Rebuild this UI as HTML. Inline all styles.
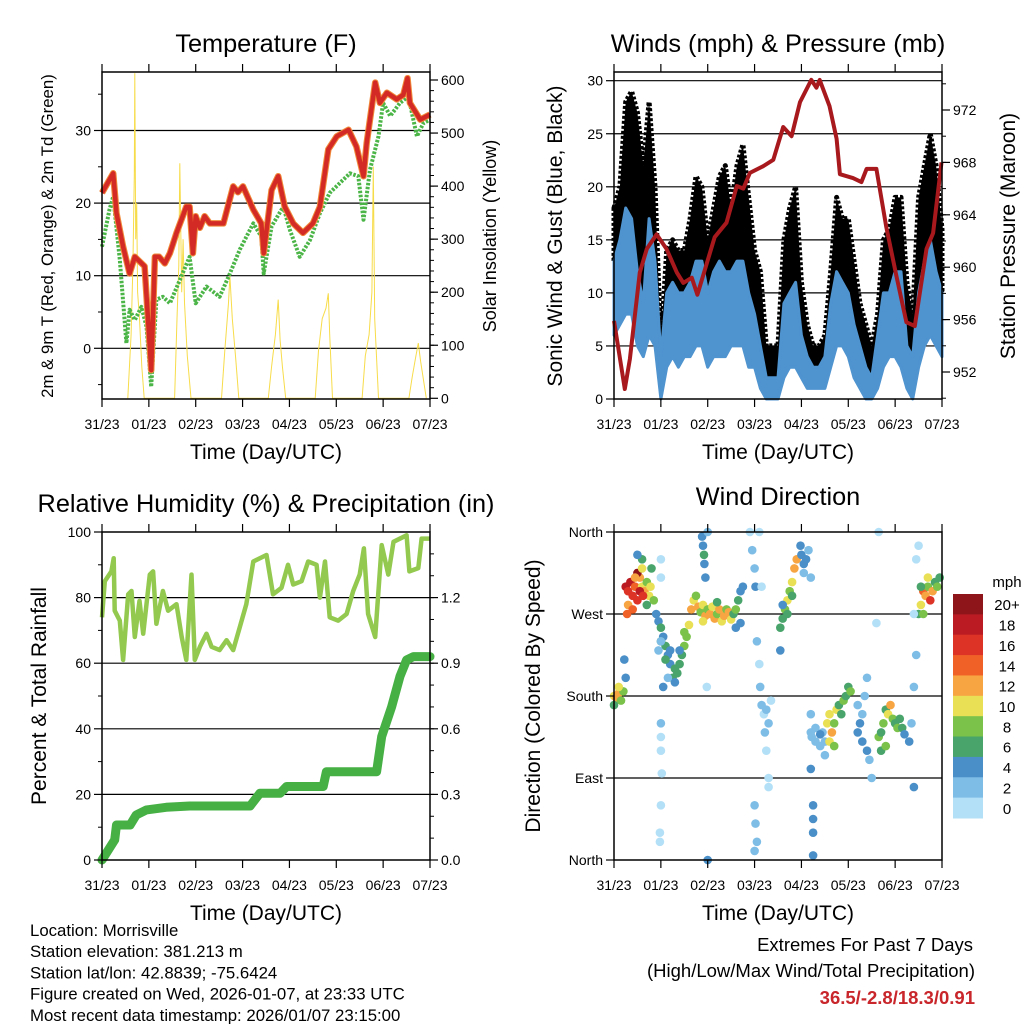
<!DOCTYPE html>
<html><head><meta charset="utf-8"><style>
body{margin:0;background:#fff}
svg{display:block;font-family:"Liberation Sans",sans-serif}
</style></head><body>
<svg id="s" width="1024" height="1024" viewBox="0 0 1024 1024">
<rect width="1024" height="1024" fill="#fff"/>
</svg>
<script>
// ---------- DATA ----------
const dayLabels=["31/23","01/23","02/23","03/23","04/23","05/23","06/23","07/23"];
// Temperature (F)
const tempT=[0,0.24,0.31,0.45,0.59,0.7,0.91,1.02,1.05,1.13,1.22,1.34,1.45,1.59,1.8,1.87,1.94,2.0,2.09,2.19,2.3,2.59,2.8,2.9,3.01,3.23,3.4,3.45,3.62,3.76,3.9,4.08,4.29,4.5,4.65,4.83,5.01,5.26,5.43,5.58,5.65,5.83,5.93,6.08,6.29,6.43,6.52,6.57,6.79,7.0];
const tempV=[21.4,24.1,18.6,14,10.3,12.6,11.3,0.2,-3,12.6,12.6,11.7,13.1,15.9,19.5,19.5,13.1,18.2,16.6,18.2,17.2,17.2,22.3,21.5,22.3,19.1,17.2,13.1,21.8,23.7,19.5,17.2,15.9,17.2,19.5,27.4,29.2,30.1,27.8,23.7,28.3,36.6,33.8,35.2,34.3,34.9,37.2,33.8,31.5,32.2];
const dewT=[0,0.16,0.24,0.38,0.52,0.59,0.7,0.84,0.95,1.05,1.16,1.3,1.45,1.66,1.87,2.0,2.23,2.51,2.73,2.94,3.23,3.4,3.45,3.62,3.87,4.01,4.22,4.44,4.65,4.86,5.29,5.47,5.58,5.72,5.9,6.0,6.15,6.36,6.54,6.72,6.86,7.0];
const dewV=[14,19.1,20.9,12.2,0.7,5.3,3.9,5.7,3,-5.3,6.7,7.1,6.2,9.4,12.6,6.2,8.5,7.1,10.3,13.6,17.2,15.4,10.3,16.8,19.5,16.3,12.6,14.9,18.6,21.4,24.1,23.7,17.7,24.6,29.2,33.8,32,33.8,34.7,29.2,31,31.5];
const solarT=[0.55,0.62,0.66,0.69,0.7,0.72,0.74,0.76,0.8,0.85,0.9,1.55,1.6,1.64,1.66,1.7,1.73,1.76,1.82,1.9,2.55,2.62,2.7,2.73,2.78,2.85,2.92,3.55,3.62,3.7,3.76,3.8,3.85,3.92,4.55,4.62,4.7,4.78,4.83,4.86,4.92,5.55,5.62,5.7,5.76,5.79,5.82,5.9,6.55,6.62,6.7,6.75,6.8,6.92];
const solarV=[0,120,250,420,613,300,368,200,150,60,0,0,150,250,443,200,300,180,80,0,0,90,180,230,150,80,0,0,60,120,186,110,60,0,0,90,150,170,198,120,0,0,80,120,200,437,150,0,0,40,80,104,70,0];
// Winds (mph) & pressure (mb)
const windT=[0,0.125,0.25,0.375,0.5,0.625,0.75,0.875,1,1.125,1.25,1.375,1.5,1.625,1.75,1.875,2,2.125,2.25,2.375,2.5,2.625,2.75,2.875,3,3.125,3.25,3.375,3.5,3.625,3.75,3.875,4,4.125,4.25,4.375,4.5,4.625,4.75,4.875,5,5.125,5.25,5.375,5.5,5.625,5.75,5.875,6,6.125,6.25,6.375,6.5,6.625,6.75,6.875,7];
const gustHi=[18,20,28,29,27,22,28,20,5,14,15,14,14,17,21,20,15,18,21,22,18,22,24,19,14,12,5,5,5,15,18,20,11,7,5,5,6,12,19,17,17,13,9,7,5,8,15,16,19,19,11,8,19,22,25,22,16];
const windHi=[13,15,18,17,12,9,17,13,4,10,11,10,10,11,13,13,10,12,13,12,12,13,13,10,8,5,2,2,2,9,10,11,6,4,3,3,4,9,12,11,10,7,5,3,2,6,10,10,12,12,5,4,10,13,15,12,10];
const windLo=[6,7,8,8,5,4,6,5,0,3,4,3,4,4,5,5,3,4,4,4,5,5,5,3,3,1,0,0,0,2,3,3,2,1,1,1,1,3,5,5,4,2,1,0,0,1,3,4,4,3,1,0,3,5,6,5,4];
const presT=[0,0.23,0.34,0.55,0.7,0.91,1.12,1.34,1.48,1.66,1.78,1.98,2.15,2.4,2.62,2.76,2.9,3.18,3.4,3.61,3.79,3.97,4.21,4.32,4.39,4.6,4.75,4.82,5.1,5.28,5.39,5.6,5.81,6.03,6.24,6.42,6.67,6.81,6.99];
const presV=[955.9,950.7,953,959.6,961.4,962.5,961.4,959.6,958.8,959.2,957.9,960.3,962.3,963.4,966.2,966,967.2,967.7,968.2,970.7,970,972.6,974.3,973.7,974.3,972.3,969.8,967.1,966.8,966.5,967.5,967.5,963.1,959.3,955.8,955.5,961.4,962.6,968];
// RH & precip
const rhT=[0,0.06,0.2,0.25,0.27,0.38,0.45,0.56,0.63,0.7,0.8,0.88,1.02,1.09,1.16,1.3,1.41,1.59,1.7,1.8,1.91,1.98,2.09,2.23,2.34,2.51,2.66,2.8,2.94,3.08,3.23,3.51,3.65,3.83,3.97,4.08,4.26,4.4,4.58,4.65,4.76,4.86,5.04,5.22,5.36,5.5,5.59,5.68,5.83,5.97,6.11,6.22,6.5,6.56,6.75,6.82,7.0];
const rhV=[74,85,88,92,76,73,61,81,82,68,79,69,87,88,72,82,76,78,68,61,87,61,65,69,65,64,67,64,71,78,91,93,81,83,90,84,85,91,90,80,91,74,73,75,82,87,95,75,68,96,87,97,99,88,89,98,98];
const prT=[0,0.27,0.31,0.6,0.73,0.95,1.37,1.87,3.16,3.37,3.8,3.94,4.72,4.79,5.86,5.97,6.18,6.36,6.5,6.65,7.0];
const prV=[0,0.092,0.16,0.16,0.206,0.229,0.241,0.247,0.247,0.305,0.305,0.336,0.336,0.404,0.404,0.565,0.70,0.84,0.915,0.93,0.93];
// Wind direction (deg) colored by speed (mph)
const dirT=[0,0.05,0.1,0.15,0,0.2,0.25,0.22,0.1,
0.25,0.3,0.35,0.4,0.45,0.5,0.55,0.6,0.65,0.7,0.75,0.8,0.85,0.3,0.4,0.5,0.6,0.7,0.28,0.55,0.45,0.62,0.78,0.9,0.6,0.5,
0.95,1.0,1.05,1.1,1.15,1.2,1.25,1.3,1.35,1.4,1.45,1.5,1.55,1.6,1.0,1.1,1.2,1.3,1.4,1.5,0.95,1.05,1.15,
1.65,1.7,1.75,1.8,1.85,1.9,1.95,2.0,2.05,2.1,2.15,2.2,2.25,2.3,2.35,2.4,2.45,2.5,2.55,2.6,2.65,2.7,2.75,2.7,2.6,1.9,2.2,
1.88,1.9,1.92,1.93,1.95,
2.9,2.95,3.0,3.02,3.05,3.1,3.12,3.15,3.2,3.22,3.25,3.3,3.3,3.0,3.02,3.0,3.05,3.25,3.3,3.35,3.1,3.15,
3.55,3.6,3.65,3.7,3.75,3.8,3.85,3.9,3.6,3.7,3.8,3.55,
3.98,4.0,4.05,4.1,4.15,4.05,4.2,
4.2,4.22,4.25,4.25,4.25,4.25,4.2,
4.2,4.3,4.4,4.45,4.5,4.55,4.6,4.7,4.75,4.8,4.9,4.95,5.0,5.05,4.65,4.6,4.7,4.5,4.85,4.3,4.4,
5.2,5.25,5.3,5.35,5.4,5.4,5.45,5.5,5.2,5.3,
5.65,5.7,5.75,5.8,5.85,5.9,5.95,6.0,6.05,6.1,6.15,6.2,6.3,5.7,5.8,6.35,6.4,6.45,6.5,6.45,6.4,
6.5,6.55,6.6,6.65,6.7,6.75,6.8,6.85,6.9,6.95,6.6,6.7,6.55,
1.0,1.0,1.0,1.0,1.0,1.0,1.02,1.0,0.98,0.98,2.0,2.0,1.98,5.6,5.65,6.4];
const dirDeg=[180,178,183,175,170,185,200,220,190,
300,295,305,290,300,285,310,300,295,305,290,320,285,280,275,315,320,280,270,295,310,290,300,270,330,335,
262,255,245,235,225,215,200,195,205,215,225,235,245,258,240,220,230,210,230,250,230,190,200,
275,285,290,278,272,280,268,275,270,278,265,270,275,262,268,275,272,264,270,275,285,295,300,260,255,262,283,
355,345,335,325,310,
360,340,320,300,240,215,190,170,160,140,120,90,80,60,40,10,20,165,150,175,360,300,
255,265,275,285,295,305,320,330,280,270,290,230,
345,335,325,330,340,315,310,
160,135,60,45,30,5,100,
140,130,125,140,130,150,160,150,165,170,175,180,190,185,140,130,125,115,160,145,138,
170,150,130,180,200,120,110,90,140,160,
135,140,150,165,160,170,155,150,145,155,145,138,130,120,125,150,190,225,345,330,80,
270,280,295,290,300,285,295,305,300,310,270,310,300,
330,310,240,150,135,120,95,60,30,20,360,0,190,260,360,270];
const dirSpd=[10,12,12,8,6,8,4,4,10,
18,16,18,16,14,16,12,10,12,8,10,6,8,12,14,20,10,6,14,18,12,16,10,4,6,4,
4,6,4,6,4,4,6,4,6,6,6,8,8,10,6,6,4,6,4,8,2,4,2,
12,10,8,12,8,10,12,8,12,10,12,8,12,10,12,8,12,10,6,8,6,4,4,4,4,10,6,
4,4,6,4,4,
0,2,2,4,2,0,2,2,0,2,0,0,0,2,2,2,2,2,2,0,0,0,
6,6,8,10,8,10,12,12,4,6,6,4,
4,4,4,4,2,2,2,
2,2,4,4,4,4,4,
2,2,2,2,2,10,10,8,10,6,8,6,6,8,12,10,8,2,6,2,4,
2,4,4,2,2,4,2,2,4,2,
8,6,8,6,10,12,8,6,8,6,6,4,4,6,8,2,2,2,0,0,4,
6,10,14,12,8,16,12,6,8,6,8,10,6,
0,0,2,2,0,0,0,0,0,0,2,4,0,0,0,0];
const spdColors=["#b3e0f7","#7ebde6","#4a8fc7","#48a46b","#7ac24a","#e9e055","#f7a443","#f06128","#dc3326","#bb1c23","#8e1519"];
const spdLabels=["0","2","4","6","8","10","12","14","16","18","20+"];

// ---------- HELPERS ----------
const NS="http://www.w3.org/2000/svg";
const root=document.getElementById('s');
function mk(tag,attrs,parent){const e=document.createElementNS(NS,tag);for(const k in attrs)e.setAttribute(k,attrs[k]);(parent||root).appendChild(e);return e;}
function txt(str,x,y,size,anchor,parent,extra){const t=mk('text',Object.assign({x:x,y:y,'font-size':size,'text-anchor':anchor||'middle',fill:'#000'},extra||{}),parent);t.textContent=str;return t;}
function lin(d0,d1,p0,p1){return v=>p0+(v-d0)*(p1-p0)/(d1-d0);}
function pathFrom(ts,vs,sx,sy){return ts.map((t,i)=>(i?'L':'M')+sx(t).toFixed(1)+','+sy(vs[i]).toFixed(1)).join('');}
function bandPath(ts,hi,lo,sx,sy){return 'M'+ts.map((t,i)=>sx(t).toFixed(1)+','+sy(hi[i]).toFixed(1)).join('L')+'L'+ts.map((t,i)=>i).reverse().map(i=>sx(ts[i]).toFixed(1)+','+sy(lo[i]).toFixed(1)).join('L')+'Z';}

function panel(name,L,R,T,B){
  const g=mk('g',{});
  
  
  return {g,L,R,T,B,sx:lin(0,7,L,R)};
}
function xAxis(p){
  const ax=mk('g',{},p.g);
  
  
  dayLabels.forEach((lab,i)=>{
    const x=p.sx(i);
    mk('line',{x1:x,x2:x,y1:p.B,y2:p.B+8,stroke:'#000','stroke-width':1.2},ax);
    mk('line',{x1:x,x2:x,y1:p.T,y2:p.T-8,stroke:'#000','stroke-width':1.2},ax);
    txt(lab,x,p.B+30,14,'middle',ax);
  });
  const t=txt('Time (Day/UTC)',(p.L+p.R)/2,p.B+60,21,'middle',ax);
  
  
}
function frame(p){
  const f=mk('rect',{x:p.L,y:p.T,width:p.R-p.L,height:p.B-p.T,fill:'none',stroke:'#000','stroke-width':1.5},p.g);
  
  
}
function yTicks(p,side,vals,labels,sy,minor,name){
  const ax=mk('g',{},p.g);
  
  
  const x0=side==='L'?p.L:p.R, dir=side==='L'?-1:1;
  vals.forEach((v,i)=>{const y=sy(v);
    mk('line',{x1:x0,x2:x0+dir*8,y1:y,y2:y,stroke:'#000','stroke-width':1.2},ax);
    txt(labels[i],x0+dir*11,y+5,14,side==='L'?'end':'start',ax);});
  (minor||[]).forEach(v=>{const y=sy(v);mk('line',{x1:x0,x2:x0+dir*4,y1:y,y2:y,stroke:'#000','stroke-width':1},ax);});
}
function grid(p,vals,sy){vals.forEach(v=>{const y=sy(v);const l=mk('line',{x1:p.L,x2:p.R,y1:y,y2:y,stroke:'#000','stroke-width':1.2},p.g);
  
  });}
function vtitle(str,x,y,size,name){const t=txt(str,x,y,size,'middle',root,{transform:`rotate(-90 ${x} ${y})`});
  
  }
function title(str,x,y,name){const t=txt(str,x,y,25.3,'middle');
  
  }
function range(a,b,s){const r=[];for(let v=a;v<=b+1e-9;v+=s)r.push(+v.toFixed(3));return r;}

// ---------- PANEL 1: Temperature ----------
{
const p=panel('temperature-panel',102,430,72,399);
const sy=lin(0,10,348.3,275.7), sy2=lin(0,600,398.3,80);
grid(p,[0,10,20,30],sy);
const sol=mk('path',{d:pathFrom(solarT,solarV,p.sx,sy2),fill:'none',stroke:'#f7dc4a','stroke-width':1},p.g);


const dp=mk('path',{d:pathFrom(dewT,dewV,p.sx,sy),fill:'none',stroke:'#4cb548','stroke-width':4,'stroke-dasharray':'2.5 1.5','stroke-linejoin':'round'},p.g);


const t9=mk('path',{d:pathFrom(tempT,tempV,p.sx,sy),fill:'none',stroke:'#f08a3a','stroke-width':6.5,'stroke-linejoin':'round'},p.g);


const t2=mk('path',{d:pathFrom(tempT,tempV,p.sx,sy),fill:'none',stroke:'#d42a25','stroke-width':4.5,'stroke-linejoin':'round'},p.g);


frame(p);xAxis(p);
yTicks(p,'L',[0,10,20,30],['0','10','20','30'],sy,[-5,5,15,25,35],'y-axis-left');
yTicks(p,'R',[0,100,200,300,400,500,600],['0','100','200','300','400','500','600'],sy2,range(20,580,20),'y-axis-right');
title('Temperature (F)',266,52,'temperature-title');
vtitle('2m & 9m T (Red, Orange) & 2m Td (Green)',53,236,16.8,'temperature-y-title');
vtitle('Solar Insolation (Yellow)',496,236,18,'solar-y-title');
}
// ---------- PANEL 2: Winds ----------
{
const p=panel('winds-panel',614,942,72,399);
const sy=lin(0,30,399,80.7), sy2=lin(952,972,372,110);
grid(p,[5,10,15,20,25,30],sy);
const gb=mk('path',{d:bandPath(windT,gustHi,windHi,p.sx,sy),fill:'#000',stroke:'#000','stroke-width':5,'stroke-linejoin':'round','stroke-dasharray':'3 2'},p.g);


const wb=mk('path',{d:bandPath(windT,windHi,windLo,p.sx,sy),fill:'#4f93cf',stroke:'#4f93cf','stroke-width':3,'stroke-linejoin':'round'},p.g);


const pr=mk('path',{d:pathFrom(presT,presV,p.sx,sy2),fill:'none',stroke:'#a8191e','stroke-width':4,'stroke-linejoin':'round'},p.g);


frame(p);xAxis(p);
yTicks(p,'L',[0,5,10,15,20,25,30],['0','5','10','15','20','25','30'],sy,[],'y-axis-left');
yTicks(p,'R',[952,956,960,964,968,972],['952','956','960','964','968','972'],sy2,range(950,974,2),'y-axis-right');
title('Winds (mph) & Pressure (mb)',778,52,'winds-title');
vtitle('Sonic Wind & Gust (Blue, Black)',562,236,21,'wind-y-title');
vtitle('Station Pressure (Maroon)',1015,236,21,'pressure-y-title');
}
// ---------- PANEL 3: RH & precip ----------
{
const p=panel('humidity-panel',102,430,532,860);
const sy=lin(0,100,860,532), sy2=lin(0,1.5,860,532);
grid(p,[20,40,60,80],sy);
const rh=mk('path',{d:pathFrom(rhT,rhV,p.sx,sy),fill:'none',stroke:'#93c94f','stroke-width':4.5,'stroke-linejoin':'round'},p.g);


const pc=mk('path',{d:pathFrom(prT,prV,p.sx,sy2),fill:'none',stroke:'#46b045','stroke-width':9,'stroke-linejoin':'round','stroke-linecap':'round'},p.g);


frame(p);xAxis(p);
yTicks(p,'L',[0,20,40,60,80,100],['0','20','40','60','80','100'],sy,[10,30,50,70,90],'y-axis-left');
yTicks(p,'R',[0,0.3,0.6,0.9,1.2],['0.0','0.3','0.6','0.9','1.2'],sy2,range(0.1,1.4,0.1),'y-axis-right');
title('Relative Humidity (%) & Precipitation (in)',266,512,'humidity-title');
vtitle('Percent & Total Rainfall',46,696,21,'humidity-y-title');
}
// ---------- PANEL 4: Wind direction ----------
{
const p=panel('wind-direction-panel',614,942,532,860);
const sy=lin(0,360,860,532);
grid(p,[90,180,270],sy);
const dots=mk('g',{},p.g);


dirT.forEach((t,i)=>{
  const ci=Math.min(10,Math.floor(dirSpd[i]/2));
  const c=mk('circle',{cx:p.sx(t).toFixed(1),cy:sy(dirDeg[i]).toFixed(1),r:4.3,fill:spdColors[ci]},dots);
  
  
});
frame(p);xAxis(p);
yTicks(p,'L',[0,90,180,270,360],['North','East','South','West','North'],sy,[],'y-axis-left');
title('Wind Direction',778,505,'wind-direction-title');
vtitle('Direction (Colored By Speed)',540,696,21,'direction-y-title');
const cb=mk('g',{});


const top=594,h=224/11;
spdColors.slice().reverse().forEach((c,i)=>{
  const r=mk('rect',{x:953,y:top+i*h,width:30,height:h+0.5,fill:c},cb);
  
  
  txt(spdLabels[10-i],1007,top+i*h+h/2+6,15,'middle',cb);
});
txt('mph',1007,587,15,'middle',cb);
}
// ---------- footer ----------
{
const f=mk('g',{});


["Location: Morrisville","Station elevation: 381.213 m","Station lat/lon: 42.8839; -75.6424","Figure created on Wed, 2026-01-07, at 23:33 UTC","Most recent data timestamp: 2026/01/07 23:15:00"].forEach((s,i)=>txt(s,30,936+i*21.2,16.8,'start',f));
const e=mk('g',{});


txt('Extremes For Past 7 Days',973,951,18.5,'end',e);
txt('(High/Low/Max Wind/Total Precipitation)',975,977,18.5,'end',e);
txt('36.5/-2.8/18.3/0.91',975,1004,18.5,'end',e,{fill:'#c8262b','font-weight':'bold'});
}
</script>
</body></html>
